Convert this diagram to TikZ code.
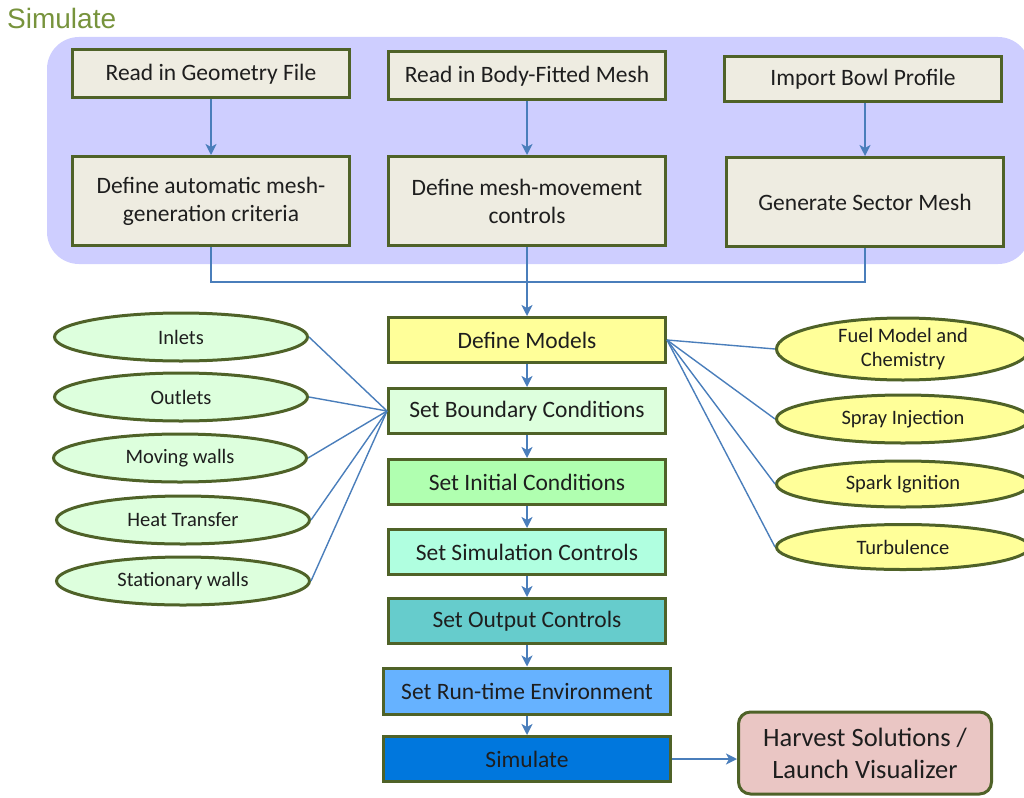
\documentclass[tikz,border=0pt]{standalone}
\usepackage{fontspec}
\setmainfont{Carlito}
\newfontfamily\titlefont{Liberation Sans}
\usetikzlibrary{arrows.meta,shapes.geometric}
\definecolor{lavender}{RGB}{206,206,255}
\definecolor{beige}{RGB}{238,236,225}
\definecolor{olive}{RGB}{79,98,40}
\definecolor{titlegreen}{RGB}{119,147,60}
\definecolor{linkblue}{RGB}{74,126,187}
\definecolor{paleyellow}{RGB}{255,255,153}
\definecolor{palegreen}{RGB}{221,255,221}
\definecolor{initgreen}{RGB}{176,255,176}
\definecolor{mintgreen}{RGB}{176,255,224}
\definecolor{tealbox}{RGB}{102,204,204}
\definecolor{skyblue}{RGB}{102,178,255}
\definecolor{runblue}{RGB}{0,119,221}
\definecolor{rosebox}{RGB}{234,198,196}
\definecolor{ink}{RGB}{30,30,30}
\begin{document}
\begin{tikzpicture}[x=1pt,y=-1pt,>={Stealth[length=11pt,width=11pt,inset=3pt]},
	box/.style={draw=olive,line width=3pt,text=ink,font=\fontsize{23.5}{28}\selectfont,align=center,inner sep=0pt,minimum width=277pt},
	oval/.style={ellipse,draw=olive,line width=3pt,text=ink,font=\fontsize{20.5}{24}\selectfont,align=center,inner sep=0pt,minimum width=253pt,minimum height=48pt},
	link/.style={draw=linkblue,line width=2pt},
	spoke/.style={draw=linkblue,line width=1.4pt}]
	\useasboundingbox (0,0) rectangle (1024,797);
	\fill[lavender,rounded corners=32pt] (47,37) rectangle (1030,264);
	\node[anchor=west,inner sep=0pt,text=titlegreen,font=\titlefont\fontsize{28}{30}\selectfont] (title) at (7,18) {Simulate};
	\node[box,fill=beige,minimum height=48pt] (geometry) at (211,74) {Read in Geometry File};
	\node[box,fill=beige,minimum height=48pt] (bodymesh) at (527,76) {Read in Body-Fitted Mesh};
	\node[box,fill=beige,minimum height=45pt] (bowl) at (863,79) {Import Bowl Profile};
	\node[box,fill=beige,minimum height=89pt] (automesh) at (211,201) {Define automatic mesh-\\generation criteria};
	\node[box,fill=beige,minimum height=89pt] (movement) at (527,201) {Define mesh-movement\\controls};
	\node[box,fill=beige,minimum height=89pt] (sector) at (865,202) {Generate Sector Mesh};
	\coordinate (merge) at (527,282);
	\node[box,fill=paleyellow,minimum height=45pt] (models) at (527,340) {Define Models};
	\node[box,fill=palegreen,minimum height=45pt] (boundary) at (527,411) {Set Boundary Conditions};
	\node[box,fill=initgreen,minimum height=45pt] (initial) at (527,482) {Set Initial Conditions};
	\node[box,fill=mintgreen,minimum height=45pt] (controls) at (527,552) {Set Simulation Controls};
	\node[box,fill=tealbox,minimum height=45pt] (output) at (527,621) {Set Output Controls};
	\node[box,fill=skyblue,minimum height=46pt,minimum width=287pt] (runtime) at (527,691) {Set Run-time Environment};
	\node[box,fill=runblue,minimum height=45pt,minimum width=287pt] (simulate) at (527,759) {Simulate};
	\node[box,fill=rosebox,rounded corners=12pt,minimum height=82pt,minimum width=253pt,font=\fontsize{26.5}{32}\selectfont] (harvest) at (865,753) {Harvest Solutions /\\Launch Visualizer};
	\node[oval,fill=palegreen] (inlets) at (181,337) {Inlets};
	\node[oval,fill=palegreen] (outlets) at (181,397) {Outlets};
	\node[oval,fill=palegreen] (moving) at (180,458) {Moving walls};
	\node[oval,fill=palegreen] (heat) at (183,520) {Heat Transfer};
	\node[oval,fill=palegreen] (stationary) at (183,581) {Stationary walls};
	\node[oval,fill=paleyellow,minimum height=62pt] (fuel) at (903,349) {Fuel Model and\\Chemistry};
	\node[oval,fill=paleyellow] (spray) at (903,419) {Spray Injection};
	\node[oval,fill=paleyellow,minimum height=46pt] (spark) at (903,484) {Spark Ignition};
	\node[oval,fill=paleyellow,minimum height=45pt] (turbulence) at (903,547) {Turbulence};
	\draw[link,->] (geometry) -- (automesh);
	\draw[link,->] (bodymesh) -- (movement);
	\draw[link,->] (bowl.south -| sector) -- (sector);
	\draw[link] (automesh.south) |- (merge) -| (sector.south);
	\draw[link,->] (movement.south) -- (models.north);
	\draw[link,->] (models) -- (boundary);
	\draw[link,->] (boundary) -- (initial);
	\draw[link,->] (initial) -- (controls);
	\draw[link,->] (controls) -- (output);
	\draw[link,->] (output) -- (runtime);
	\draw[link,->] (runtime) -- (simulate);
	\draw[link,->] (simulate.east) -- (simulate.east -| harvest.west);
	\foreach \n in {inlets,outlets,moving,heat,stationary}
		\draw[spoke] (\n.east) -- (boundary.west);
	\foreach \n in {fuel,spray,spark,turbulence}
		\draw[spoke] (models.east) -- (\n.west);
\end{tikzpicture}
\end{document}
